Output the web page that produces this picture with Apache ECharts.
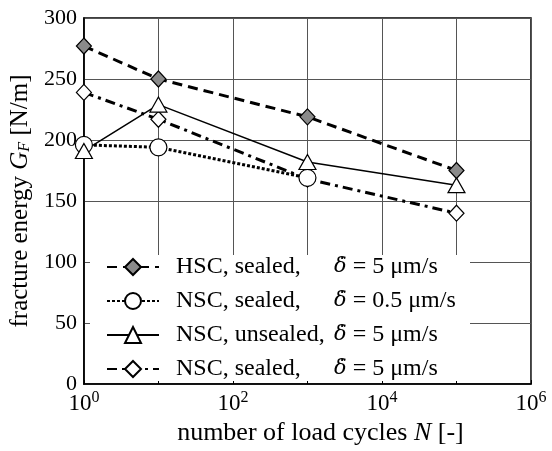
<!DOCTYPE html>
<html>
<head>
<meta charset="utf-8">
<script src="https://cdn.jsdelivr.net/npm/echarts@6/dist/echarts.min.js"></script>
<style>
html, body { margin: 0; padding: 0; background: #fff; }
#chart { width: 552px; height: 451px; }
</style>
</head>
<body>
<div id="chart"></div>
<script>
// load cycles (x) and fracture energy values (y) per test series
var cycles = [1, 10, 1000, 100000]
var hscSealed = [277, 250, 219, 175]
var nscSealedSlow = [196, 194, 169]
var nscUnsealed = [191, 229, 182, 163]
var nscSealed = [239, 217, 168, 140]

var names = ['HSC sealed', 'NSC sealed slow', 'NSC unsealed', 'NSC sealed']
var legendMaterial = ['HSC, sealed,', 'NSC, sealed,', 'NSC, unsealed,', 'NSC, sealed,']
var legendRate = ['5 μm/s', '0.5 μm/s', '5 μm/s', '5 μm/s']
var yTicks = [0, 50, 100, 150, 200, 250, 300]

var font = 'Liberation Serif'

function pairs(vals) {
	return vals.map(function(v, i) { return [cycles[i], v] })
}

var markerStyle = function(fill) {
	return { color: fill, borderColor: '#000', borderWidth: 1.2 }
}

var options = {
	animation: false,
	textStyle: { fontFamily: font, color: '#000' },
	grid: { left: 83, right: 21, top: 18, bottom: 67, show: true, borderColor: '#000', borderWidth: 1.5 },
	graphic: [{
		type: 'rect', left: 90, top: 255, z: 3,
		shape: { width: 380, height: 126 },
		style: { fill: '#fff' }
	}],
	legend: {
		orient: 'vertical', left: 106, top: 255, padding: 0,
		itemWidth: 52, itemHeight: 20, itemGap: 10, z: 5,
		data: names,
		formatter: function(name) {
			var i = names.indexOf(name)
			return '{s|}{a|' + legendMaterial[i] + '}{d|δ̇}{b| = ' + legendRate[i] + '}'
		},
		textStyle: {
			fontFamily: font, fontSize: 24, lineHeight: 22, color: '#000',
			rich: {
				s: { width: 12 },
				a: { width: 158, fontFamily: font, fontSize: 24 },
				d: { fontFamily: 'DejaVu Serif', fontSize: 21, fontStyle: 'italic' },
				b: { fontFamily: font, fontSize: 24 }
			}
		}
	},
	xAxis: {
		type: 'log', logBase: 10, min: 1, max: 1000000,
		name: 'number of load cycles {i|N} [-]',
		nameLocation: 'middle', nameGap: 35,
		nameTextStyle: {
			fontFamily: font, fontSize: 26, color: '#000', padding: [0, 0, 0, 26],
			rich: { i: { fontFamily: font, fontSize: 26, fontStyle: 'italic' } }
		},
		axisLine: { show: true, lineStyle: { color: '#000', width: 1.5 } },
		axisTick: { show: true, inside: true, length: 4, lineStyle: { color: '#000' } },
		splitLine: { show: true, lineStyle: { color: '#555', width: 1 } },
		axisLabel: {
			color: '#000', margin: 6, fontFamily: font,
			formatter: function(v) {
				var e = Math.round(Math.log10(v))
				if (e % 2 !== 0) return ''
				return '{b|10}{s|' + e + '}'
			},
			rich: {
				b: { fontFamily: font, fontSize: 23 },
				s: { fontFamily: font, fontSize: 16, padding: [0, 0, 11, 0] }
			}
		}
	},
	yAxis: {
		type: 'value', min: 0, max: 300, interval: 50,
		name: 'fracture energy {i|G}{sub|F} [N/m]',
		nameLocation: 'middle', nameGap: 49,
		nameTextStyle: {
			fontFamily: font, fontSize: 25, color: '#000',
			rich: {
				i: { fontFamily: font, fontSize: 25, fontStyle: 'italic' },
				sub: { fontFamily: font, fontSize: 16, fontStyle: 'italic', padding: [9, 0, 0, 0] }
			}
		},
		axisLine: { show: true, lineStyle: { color: '#000', width: 1.5 } },
		axisTick: { show: false },
		splitLine: { show: true, lineStyle: { color: '#555', width: 1 } },
		axisLabel: {
			color: '#000', fontFamily: font, fontSize: 22, margin: 7,
			formatter: function(v) { return yTicks.indexOf(v) >= 0 ? String(v) : '' }
		}
	},
	series: [{
		name: names[0], type: 'line', clip: false, z: 4,
		data: pairs(hscSealed),
		symbol: 'diamond', symbolSize: [15, 16],
		itemStyle: markerStyle('#8a8a8a'),
		lineStyle: { color: '#000', width: 3, type: [10, 6] }
	}, {
		name: names[1], type: 'line', clip: false, z: 3,
		data: pairs(nscSealedSlow),
		symbol: 'circle', symbolSize: 17,
		itemStyle: markerStyle('#fff'),
		lineStyle: { color: '#000', width: 3, type: [3, 2] }
	}, {
		name: names[2], type: 'line', clip: false, z: 3,
		data: pairs(nscUnsealed),
		symbol: 'triangle', symbolSize: [17, 15],
		itemStyle: markerStyle('#fff'),
		lineStyle: { color: '#000', width: 1.5, type: 'solid' }
	}, {
		name: names[3], type: 'line', clip: false, z: 2,
		data: pairs(nscSealed),
		symbol: 'diamond', symbolSize: [15, 16],
		itemStyle: markerStyle('#fff'),
		lineStyle: { color: '#000', width: 3, type: [10, 5, 3, 5] }
	}]
}

var myChart = echarts.init(document.getElementById('chart'))
myChart.setOption(options)
</script>
</body>
</html>
